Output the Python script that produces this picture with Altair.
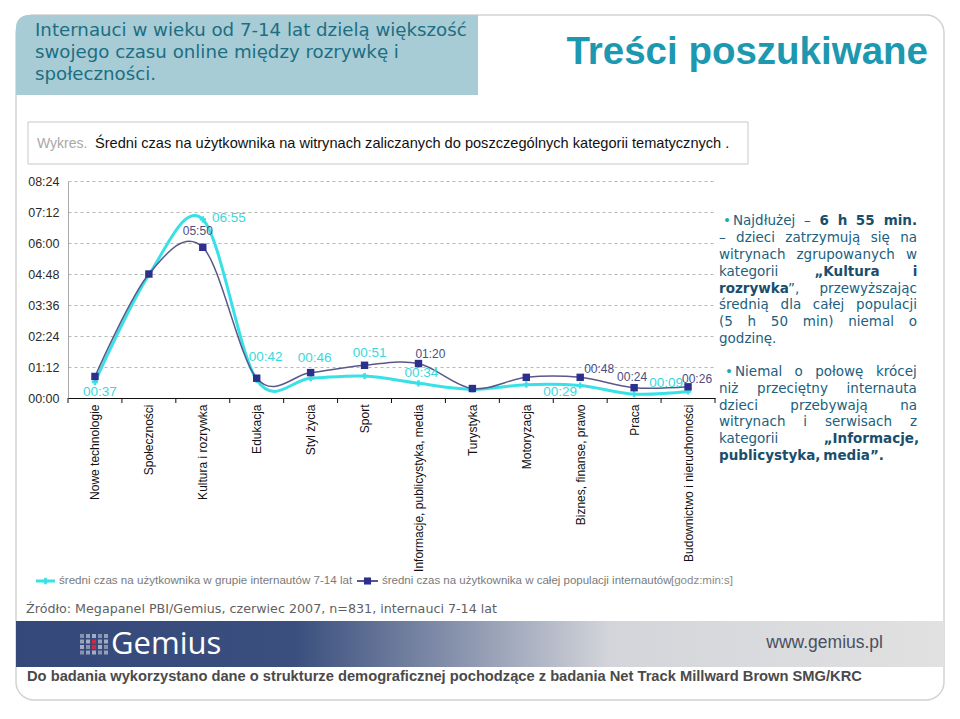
import altair as alt
import pandas as pd

# ---------------- data ----------------
categories = [
    "Nowe technologie", "Społeczności", "Kultura i rozrywka", "Edukacja",
    "Styl życia", "Sport", "Informacje, publicystyka, media", "Turystyka",
    "Motoryzacja", "Biznes, finanse, prawo", "Praca", "Budownictwo i nieruchomości",
]
# average time per user, in minutes (axis shows hh:mm)
kids_minutes = [37, 286, 415, 42, 46, 51, 34, 20, 31, 29, 9, 15]
all_minutes = [50, 288, 350, 46, 59, 76, 80, 22, 48, 48, 24, 26]
kids_labelled = [True, False, True, True, True, True, True, False, False, True, True, False]
all_labelled = [False, False, True, False, False, False, True, False, False, True, True, True]
y_ticks = [0, 72, 144, 216, 288, 360, 432, 504]

series_kids = "średni czas na użytkownika  w grupie internautów 7-14 lat"
series_all = "średni czas na użytkownika w całej populacji internautów"

# label offsets (style only)
kids_label_offset = [(5, 10), None, (26, -1), (9, -23), (4, -20), (5, -23), (3, -10),
                     None, None, (-20, 6), (32, -11), None]
all_label_offset = [None, None, (-5, -16), None, None, None, (12, -10),
                    None, None, (19, -8), (-2, -11), (9, -8)]

# ---------------- layout ----------------
W, H = 647, 217
OX, OY = 68, 181          # page position of plot origin
PAD_L, PAD_T = OX - 8, OY - 8
TOTAL_W, TOTAL_H = 944, 698
STEP = W / len(categories)

CYAN = "#38e1e6"
CYAN_TXT = "#3ad8dc"
NAVY_LINE = "#5a5888"
NAVY_PT = "#2c2f8c"
NAVY_TXT = "#4d4d80"
TEAL_TXT = "#1d6e82"
BODY_TXT = "#215f7e"
BOLD_TXT = "#1a4e6c"
ARIAL = "Liberation Sans"

one = pd.DataFrame({"a": [0]})

kids_df = pd.DataFrame({"category": categories, "minutes": kids_minutes})
all_df = pd.DataFrame({"category": categories, "minutes": all_minutes})

fmt = "utcFormat(datum.minutes * 60000, '%H:%M')"

x_axis = alt.Axis(
    labelAngle=270, labelAlign="right", labelBaseline="middle",
    labelFont=ARIAL, labelFontSize=12, labelColor="#111111",
    labelPadding=6, labelLimit=400, ticks=False,
    domainColor="#111111", domainWidth=1, title=None, grid=False,
)
y_axis = alt.Axis(
    values=y_ticks, labelExpr="utcFormat(datum.value * 60000, '%H:%M')",
    labelFont=ARIAL, labelFontSize=12.5, labelColor="#2a2a2a", labelPadding=9,
    ticks=False, grid=True, gridDash=[3, 3], gridColor="#b9b9b9",
    domainColor="#a9a9a9", title=None,
)

x_enc = alt.X("category:N", sort=categories,
              scale=alt.Scale(type="point", padding=0.5, domain=categories),
              axis=x_axis)
y_enc = alt.Y("minutes:Q", scale=alt.Scale(domain=[0, 504], nice=False, zero=True),
              axis=y_axis)


def px(x):
    return x - OX


def py(y):
    return y - OY


def txt(s, x, y, size, color, font=ARIAL, weight="normal", align="left",
        baseline="middle"):
    return alt.Chart(one).mark_text(
        text=s, align=align, baseline=baseline, fontSize=size, font=font,
        fontWeight=weight, color=color,
    ).encode(x=alt.value(px(x)), y=alt.value(py(y)))


def rect(x1, y1, x2, y2, **kw):
    return alt.Chart(one).mark_rect(**kw).encode(
        x=alt.value(px(x1)), x2=alt.value(px(x2)),
        y=alt.value(py(y1)), y2=alt.value(py(y2)))


layers = []

# ---------- series (first, so that axes are defined here) ----------
layers.append(alt.Chart(kids_df).mark_line(
    interpolate="cardinal", color=CYAN, strokeWidth=3).encode(x=x_enc, y=y_enc))
layers.append(alt.Chart(kids_df).mark_point(
    shape="cross", filled=True, size=38, color=CYAN, opacity=1).encode(x=x_enc, y=y_enc))
layers.append(alt.Chart(all_df).mark_line(
    interpolate="cardinal", color=NAVY_LINE, strokeWidth=1.5).encode(x=x_enc, y=y_enc))
layers.append(alt.Chart(all_df).mark_point(
    shape="square", filled=True, size=55, color=NAVY_PT, opacity=1).encode(x=x_enc, y=y_enc))

# data labels
for i, cat in enumerate(categories):
    if kids_labelled[i]:
        dx, dy = kids_label_offset[i]
        layers.append(alt.Chart(kids_df).transform_filter(
            alt.datum.category == cat).transform_calculate(lab=fmt).mark_text(
            dx=dx, dy=dy, fontSize=13.5, font=ARIAL, color=CYAN_TXT).encode(
            x=x_enc, y=y_enc, text="lab:N"))
    if all_labelled[i]:
        dx, dy = all_label_offset[i]
        layers.append(alt.Chart(all_df).transform_filter(
            alt.datum.category == cat).transform_calculate(lab=fmt).mark_text(
            dx=dx, dy=dy, fontSize=12, font=ARIAL, color=NAVY_TXT).encode(
            x=x_enc, y=y_enc, text="lab:N"))

# ---------- x axis ticks (between categories) ----------
layers.append(alt.Chart(kids_df).mark_rule(color="#111111", xOffset=-STEP / 2).encode(
    x=x_enc, y=alt.value(H), y2=alt.value(H + 5)))
layers.append(alt.Chart(one).mark_rule(color="#111111").encode(
    x=alt.value(W), y=alt.value(H), y2=alt.value(H + 5)))

# ---------- slide frame ----------
layers.append(rect(16, 15, 944, 700, fill="transparent", stroke="#d2d2d2",
                   strokeWidth=1.5, cornerRadius=18))
layers.append(rect(16, 15, 478, 95, fill="#a7ccd5", cornerRadiusTopLeft=12))
for i, line in enumerate(["Internauci w wieku  od 7-14 lat dzielą większość",
                          "swojego czasu online między rozrywkę i",
                          "społeczności."]):
    layers.append(txt(line, 35, 31 + i * 22, 18.2, TEAL_TXT, font="DejaVu Sans"))
layers.append(txt("Treści poszukiwane", 928, 52, 38.5, "#1c98b0", weight="bold",
                  align="right"))

# caption box
layers.append(rect(28, 122, 748, 164, fill="white", stroke="#c9c9c9", strokeWidth=1))
layers.append(txt("Wykres.", 37, 144, 14, "#a8a8a8"))
layers.append(txt("Średni czas na użytkownika na witrynach zaliczanych do poszczególnych kategorii tematycznych .",
                  95, 144, 14.6, "#111111"))

# ---------- legend ----------
LEG_Y = 581
layers.append(alt.Chart(one).mark_rule(color=CYAN, strokeWidth=3).encode(
    x=alt.value(px(36)), x2=alt.value(px(55)), y=alt.value(py(LEG_Y))))
layers.append(alt.Chart(one).mark_point(shape="cross", filled=True, size=45, color=CYAN,
                                        opacity=1).encode(
    x=alt.value(px(45.5)), y=alt.value(py(LEG_Y))))
layers.append(txt(series_kids, 59, LEG_Y, 11.6, "#7a7a7a"))
layers.append(alt.Chart(one).mark_rule(color=NAVY_LINE, strokeWidth=2).encode(
    x=alt.value(px(357)), x2=alt.value(px(378)), y=alt.value(py(LEG_Y))))
layers.append(alt.Chart(one).mark_point(shape="square", filled=True, size=50, color=NAVY_PT,
                                        opacity=1).encode(
    x=alt.value(px(367.5)), y=alt.value(py(LEG_Y))))
layers.append(txt(series_all, 382, LEG_Y, 11.5, "#7a7a7a"))
layers.append(txt("[godz:min:s]", 671, LEG_Y, 11.5, "#8a8a8a"))

# source
layers.append(txt("Źródło: Megapanel PBI/Gemius, czerwiec 2007, n=831, internauci 7-14 lat",
                  26, 609, 12.7, "#5f5f5f", font="DejaVu Sans"))

# ---------- right commentary (justified) ----------
VER = "DejaVu Sans"
FS = 13.5
NORMAL_W = dict(zip("abcdefghijklmnopqrstuvwxyz",
                    [.613, .635, .55, .635, .615, .352, .635, .634, .278, .278, .579, .278,
                     .974, .634, .612, .635, .635, .411, .521, .392, .634, .592, .818, .592,
                     .592, .525]))
NORMAL_W.update({"ą": .613, "ę": .615, "ł": .3, "ż": .525, "ś": .521, "ó": .612,
                 "ć": .55, "N": .748, "K": .656, "I": .295, " ": .318, ".": .318,
                 ",": .318, "(": .39, ")": .39, "–": .5, "„": .518, "”": .518,
                 "•": .59})
for d in "0123456789":
    NORMAL_W[d] = .636
BOLD_W = {k: v * 1.12 for k, v in NORMAL_W.items()}


def width(s, bold):
    table = BOLD_W if bold else NORMAL_W
    return sum(table.get(ch, .6) for ch in s) * FS


# each line: list of words; each word a list of (text, bold) runs
def w(*runs):
    return list(runs)


N, B = False, True
para_lines = [
    # (y, left, justify, words)
    (221, 733, True, [w(("Najdłużej", N)), w(("–", N)), w(("6", B)), w(("h", B)),
                      w(("55", B)), w(("min.", B))]),
    (238, 719, True, [w(("–", N)), w(("dzieci", N)), w(("zatrzymują", N)), w(("się", N)),
                      w(("na", N))]),
    (255, 719, True, [w(("witrynach", N)), w(("zgrupowanych", N)), w(("w", N))]),
    (272, 719, True, [w(("kategorii", N)), w(("„Kultura", B)), w(("i", B))]),
    (289, 719, True, [w(("rozrywka", B), ("”,", N)), w(("przewyższając", N))]),
    (305, 719, True, [w(("średnią", N)), w(("dla", N)), w(("całej", N)),
                      w(("populacji", N))]),
    (322, 719, True, [w(("(5", N)), w(("h", N)), w(("50", N)), w(("min)", N)),
                      w(("niemal", N)), w(("o", N))]),
    (339, 719, False, [w(("godzinę.", N))]),
    (372, 735, True, [w(("Niemal", N)), w(("o", N)), w(("połowę", N)), w(("krócej", N))]),
    (389, 719, True, [w(("niż", N)), w(("przeciętny", N)), w(("internauta", N))]),
    (406, 719, True, [w(("dzieci", N)), w(("przebywają", N)), w(("na", N))]),
    (422, 719, True, [w(("witrynach", N)), w(("i", N)), w(("serwisach", N)), w(("z", N))]),
    (439, 719, True, [w(("kategorii", N)), w(("„Informacje,", B))]),
    (456, 719, False, [w(("publicystyka,", B)), w(("media”.", B))]),
]
RIGHT = 917
for y, left, justify, words in para_lines:
    widths = [sum(width(t, b) for t, b in word) for word in words]
    if justify and len(words) > 1:
        gap = (RIGHT - left - sum(widths)) / (len(words) - 1)
    else:
        gap = width(" ", False)
    x = left
    for word, ww in zip(words, widths):
        xx = x
        for t, b in word:
            layers.append(txt(t, xx, y, FS, BOLD_TXT if b else BODY_TXT, font=VER,
                              weight="bold" if b else "normal"))
            xx += width(t, b)
        x += ww + gap
# bullets
layers.append(txt("•", 723, 221, FS, "#2aa3b5", font=VER))
layers.append(txt("•", 725, 372, FS, "#2aa3b5", font=VER))

# ---------- footer ----------
grad = alt.LinearGradient(
    gradient="linear", x1=0, x2=1, y1=0, y2=0,
    stops=[alt.GradientStop(color="#34497a", offset=0),
           alt.GradientStop(color="#3a4f7e", offset=0.3),
           alt.GradientStop(color="#8590ab", offset=0.47),
           alt.GradientStop(color="#d3d5da", offset=0.64),
           alt.GradientStop(color="#e1e1e1", offset=1)])
layers.append(rect(16, 621, 944, 667, fill=grad))
# logo icon
for r in range(4):
    for c in range(5):
        red = (r in (1, 2) and c == 2)
        col = "#d7263d" if red else "#c9cedb"
        op = 1 if red else (0.55 + 0.1 * ((r + c) % 3))
        x0 = 80 + c * 6
        y0 = 634 + r * 5.5
        layers.append(rect(x0, y0, x0 + 4, y0 + 4, fill=col, opacity=op))
layers.append(txt("Gemius", 111, 645, 31, "#ffffff", font="Open Sans"))
layers.append(txt("www.gemius.pl", 883, 643, 17.5, "#4b4f60", align="right"))
layers.append(txt("Do badania wykorzystano dane o strukturze demograficznej pochodzące z badania Net Track Millward Brown SMG/KRC",
                  27, 677, 14.7, "#4a4a4a", weight="bold"))

chart = alt.layer(*layers).properties(
    width=W, height=H,
    padding={"left": PAD_L, "top": PAD_T,
             "right": TOTAL_W - PAD_L - W, "bottom": TOTAL_H - PAD_T - H},
    autosize=alt.AutoSizeParams(type="none"),
    background="white",
).configure_view(strokeWidth=0)

chart.save("out.html", embed_options={"renderer": "svg", "actions": False})
